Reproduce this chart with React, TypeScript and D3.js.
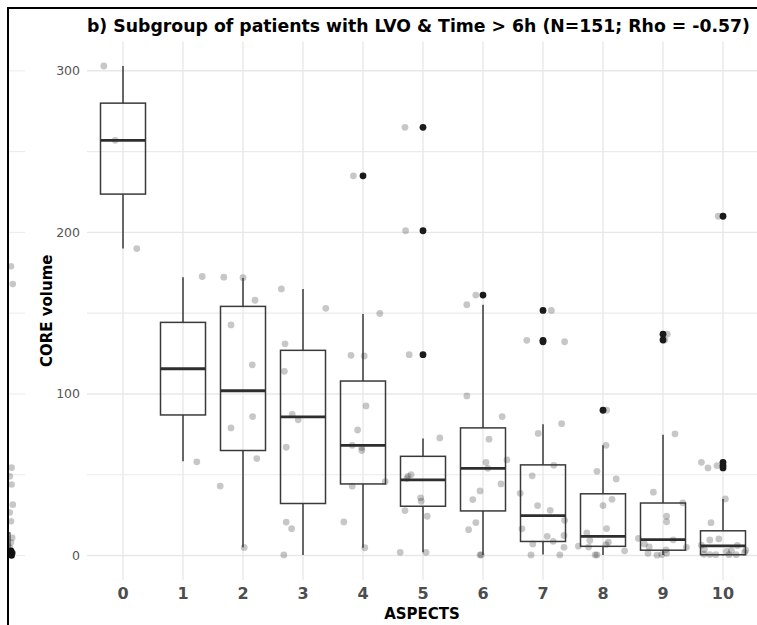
import React from "react";
import * as d3 from "d3";

const W = 757;
const H = 625;

const title = "b) Subgroup of patients with LVO & Time > 6h (N=151; Rho = -0.57)";
const xTitle = "ASPECTS";
const yTitle = "CORE volume";

const categories = [0, 1, 2, 3, 4, 5, 6, 7, 8, 9, 10];
const yTicks = [0, 100, 200, 300];
const yMinorTicks = [50, 150, 250];

// box statistics per ASPECTS category
const whiskerLow = [190, 58.3, 5.1, 0.4, 4.8, 2, 0.4, 0.6, 0.4, 0.4, 0];
const q1 = [223.7, 87, 65, 32.2, 44.3, 30.5, 27.6, 8.7, 5.7, 3.3, 0.5];
const medians = [257, 115.6, 102, 85.8, 68.2, 46.8, 54, 24.7, 11.8, 9.9, 6];
const q3 = [280, 144.3, 154.2, 127, 108, 61.4, 79, 56.1, 38.2, 32.5, 15.3];
const whiskerHigh = [303, 172.3, 171.7, 165, 149.5, 72.5, 155.2, 81.2, 68.2, 74.8, 35];

// outliers: [category, value]
const outliers: [number, number][] = [
  [4, 235],
  [5, 265], [5, 201], [5, 124.3],
  [6, 161.2],
  [7, 151.7], [7, 133.2], [7, 132.3],
  [8, 89.9],
  [9, 137], [9, 133.4],
  [10, 210], [10, 57.7], [10, 55.7], [10, 54.2],
];

// jittered observations: [category, jitter offset (category units), value]
const jitterPoints: [number, number, number][] = [
  [0, -0.32, 303], [0, -0.13, 257], [0, 0.23, 190],
  [1, 0.32, 172.7], [1, 0.23, 58],
  [2, -0.32, 172.3], [2, 0, 172], [2, 0.2, 158], [2, -0.2, 142.7], [2, 0.155, 118],
  [2, 0.16, 86], [2, -0.2, 79], [2, 0.23, 60], [2, -0.38, 43], [2, 0.02, 5],
  [3, -0.36, 165], [3, 0.38, 153], [3, -0.3, 131], [3, -0.31, 114], [3, -0.18, 87.4],
  [3, -0.08, 84], [3, -0.28, 67], [3, -0.28, 20.7], [3, -0.19, 16.6], [3, -0.32, 0.4],
  [4, -0.16, 235], [4, 0.28, 149.8], [4, -0.2, 123.9], [4, 0.02, 123.5], [4, 0.05, 92.6],
  [4, -0.09, 77.7], [4, -0.18, 68.2], [4, -0.02, 65], [4, -0.02, 66.8], [4, 0.37, 45.8],
  [4, -0.18, 42.9], [4, -0.32, 20.8], [4, 0.03, 4.8],
  [5, -0.3, 265], [5, -0.29, 201], [5, -0.23, 124.3], [5, 0.28, 72.8], [5, -0.25, 49],
  [5, -0.2, 50], [5, -0.27, 47.6], [5, -0.04, 35.7], [5, -0.03, 33.6], [5, -0.3, 27.8],
  [5, 0.07, 24.3], [5, -0.38, 2], [5, 0.05, 2],
  [6, -0.12, 161.2], [6, -0.27, 155.2], [6, -0.27, 98.8], [6, 0.32, 86], [6, 0.1, 72],
  [6, 0.4, 59.2], [6, 0.05, 57.7], [6, 0.08, 54], [6, 0.3, 44.3], [6, -0.05, 40],
  [6, -0.17, 34.6], [6, -0.12, 20.4], [6, -0.24, 16], [6, -0.05, 0.4], [6, -0.03, 0.4],
  [7, 0.14, 151.7], [7, -0.27, 133.2], [7, 0.36, 132.3], [7, 0.31, 81.6], [7, -0.08, 75.6],
  [7, 0.18, 55.8], [7, -0.18, 49.3], [7, -0.38, 38.5], [7, -0.09, 30.9], [7, 0.12, 28],
  [7, 0.36, 21.8], [7, -0.35, 16.5], [7, 0.07, 11.9], [7, 0.35, 12.4], [7, 0.17, 8.8],
  [7, -0.17, 7.2], [7, 0.35, 5.1], [7, -0.2, 0.4], [7, 0.28, 0.4],
  [8, 0.06, 89.9], [8, 0.05, 68.2], [8, -0.1, 52.1], [8, 0.22, 47.4], [8, 0.15, 34.8],
  [8, 0, 30.9], [8, 0.06, 16.7], [8, -0.27, 14], [8, -0.22, 9.3], [8, 0.09, 8.2],
  [8, -0.41, 5.8], [8, -0.24, 5.2], [8, 0.05, 6.8], [8, 0.36, 2.9], [8, -0.13, 0.4],
  [8, -0.1, 0.4],
  [9, 0.07, 137], [9, 0.03, 133.4], [9, 0.2, 75.3], [9, -0.16, 39.2], [9, 0.33, 32.6],
  [9, 0.06, 24.3], [9, 0.06, 20.9], [9, -0.41, 10.6], [9, 0.17, 9.7], [9, -0.31, 7.2],
  [9, -0.23, 5.3], [9, 0.39, 5.1], [9, -0.25, 1.4], [9, -0.1, 0.2], [9, -0.02, 0.6],
  [9, 0.06, 1.4], [9, 0.05, 3.5],
  [10, -0.08, 210], [10, -0.36, 57.7], [10, -0.25, 54.2], [10, -0.1, 55.7], [10, 0.04, 35],
  [10, -0.2, 20.3], [10, -0.07, 10.3], [10, -0.22, 9.6], [10, -0.36, 6.4], [10, -0.31, 3.7],
  [10, 0.06, 2.5], [10, 0.14, 3.1], [10, 0.24, 6.2], [10, 0.38, 3.3], [10, -0.32, 0.8],
  [10, -0.22, 0.6], [10, -0.12, 0.5], [10, 0.1, 0.5], [10, 0.22, 0.5], [10, 0.36, 1.8],
];

// remnant of the neighbouring panel (a) visible at the left edge: [jitter offset, value]
const panelAPoints: [number, number][] = [
  [0.05, 179], [0.08, 168], [0.06, 54.4], [0.03, 49], [0.06, 44], [0.08, 31.5],
  [0.03, 26.6], [0.05, 21.2], [0.07, 11], [0.05, 8], [0.03, 5],
];
const panelAOutliers: [number, number][] = [
  [0.05, 3], [0.07, 1.5], [0.04, 0.5], [0.06, 0],
];

export default function App() {
  const panelLeft = 87;
  const panelRight = 759;
  const panelTop = 41.5;
  const panelBottom = 580;

  const x = d3.scaleLinear().domain([-0.6, 10.6]).range([panelLeft, panelRight]);
  const y = d3.scaleLinear().domain([-15.15, 318.15]).range([panelBottom, panelTop]);
  const step = x(1) - x(0);
  const boxW = step * 0.75;

  // panel a remnant: category centre just left of the border
  const xA = (d: number) => 8 + d * step;

  const font = "'DejaVu Sans', Verdana, sans-serif";
  const boxStroke = "#3a3a3a";

  return (
    <svg
      width={W}
      height={H}
      style={{ position: "absolute", left: 0, top: 0, background: "#fff" }}
      xmlns="http://www.w3.org/2000/svg"
    >
      <defs>
        <clipPath id="leftClip">
          <rect x={8} y={0} width={18} height={H} />
        </clipPath>
      </defs>
      <rect x={0} y={0} width={W} height={H} fill="#fff" />

      {/* left remnant panel */}
      <g clipPath="url(#leftClip)">
        {[...yTicks, ...yMinorTicks].map((t) => (
          <line key={"ag" + t} x1={8} x2={25} y1={y(t)} y2={y(t)} stroke="#EBEBEB" strokeWidth={1} />
        ))}
        {panelAPoints.map((p, i) => (
          <circle key={"ap" + i} cx={xA(p[0])} cy={y(p[1])} r={3.3} fill="#000" fillOpacity={0.22} />
        ))}
        <rect x={xA(0) - 4} y={y(14)} width={6} height={y(0) - y(14)} fill="none" stroke="#444" strokeWidth={1.2} />
        {panelAOutliers.map((p, i) => (
          <circle key={"ao" + i} cx={xA(p[0])} cy={y(p[1])} r={3.3} fill="#111" />
        ))}
      </g>

      {/* grid */}
      {yMinorTicks.map((t) => (
        <line key={"mg" + t} x1={panelLeft} x2={W} y1={y(t)} y2={y(t)} stroke="#EBEBEB" strokeWidth={1.1} />
      ))}
      {yTicks.map((t) => (
        <line key={"g" + t} x1={panelLeft} x2={W} y1={y(t)} y2={y(t)} stroke="#E8E8E8" strokeWidth={1.4} />
      ))}
      {categories.map((c) => (
        <line key={"vg" + c} x1={x(c)} x2={x(c)} y1={panelTop} y2={panelBottom} stroke="#E8E8E8" strokeWidth={1.4} />
      ))}

      {/* jittered points */}
      {jitterPoints.map((p, i) => (
        <circle key={"j" + i} cx={x(p[0] + p[1])} cy={y(p[2])} r={3.4} fill="#000" fillOpacity={0.22} />
      ))}

      {/* boxplots */}
      {categories.map((c, i) => {
        const cx = x(c);
        return (
          <g key={"b" + c}>
            <line x1={cx} x2={cx} y1={y(q3[i])} y2={y(whiskerHigh[i])} stroke={boxStroke} strokeWidth={1.5} />
            <line x1={cx} x2={cx} y1={y(q1[i])} y2={y(whiskerLow[i])} stroke={boxStroke} strokeWidth={1.5} />
            <rect
              x={cx - boxW / 2}
              y={y(q3[i])}
              width={boxW}
              height={y(q1[i]) - y(q3[i])}
              fill="none"
              stroke={boxStroke}
              strokeWidth={1.5}
            />
            <line x1={cx - boxW / 2} x2={cx + boxW / 2} y1={y(medians[i])} y2={y(medians[i])} stroke="#2e2e2e" strokeWidth={2.8} />
          </g>
        );
      })}
      {outliers.map((o, i) => (
        <circle key={"o" + i} cx={x(o[0])} cy={y(o[1])} r={3.4} fill="#1a1a1a" />
      ))}

      {/* axes text */}
      {yTicks.map((t) => (
        <text key={"yt" + t} x={80} y={y(t)} dy="0.36em" textAnchor="end" fontFamily={font} fontSize={12.5} fill="#555">
          {t}
        </text>
      ))}
      {categories.map((c) => (
        <text key={"xt" + c} x={x(c)} y={599} textAnchor="middle" fontFamily={font} fontSize={16} fontWeight="bold" fill="#4D4D4D">
          {c}
        </text>
      ))}
      <text x={(panelLeft + panelRight) / 2 - 1} y={619} textAnchor="middle" fontFamily={font} fontSize={15} fontWeight="bold" fill="#000">
        {xTitle}
      </text>
      <text
        transform={`translate(52, ${(panelTop + panelBottom) / 2}) rotate(-90)`}
        textAnchor="middle"
        fontFamily={font}
        fontSize={15}
        fontWeight="bold"
        fill="#000"
      >
        {yTitle}
      </text>
      <text x={87} y={32} fontFamily={font} fontSize={17} fontWeight="bold" fill="#000" textLength={663} lengthAdjust="spacingAndGlyphs">
        {title}
      </text>

      {/* border of the figure */}
      <line x1={8} x2={W} y1={8} y2={8} stroke="#000" strokeWidth={2} />
      <line x1={8} x2={8} y1={7} y2={H} stroke="#000" strokeWidth={2} />
    </svg>
  );
}
